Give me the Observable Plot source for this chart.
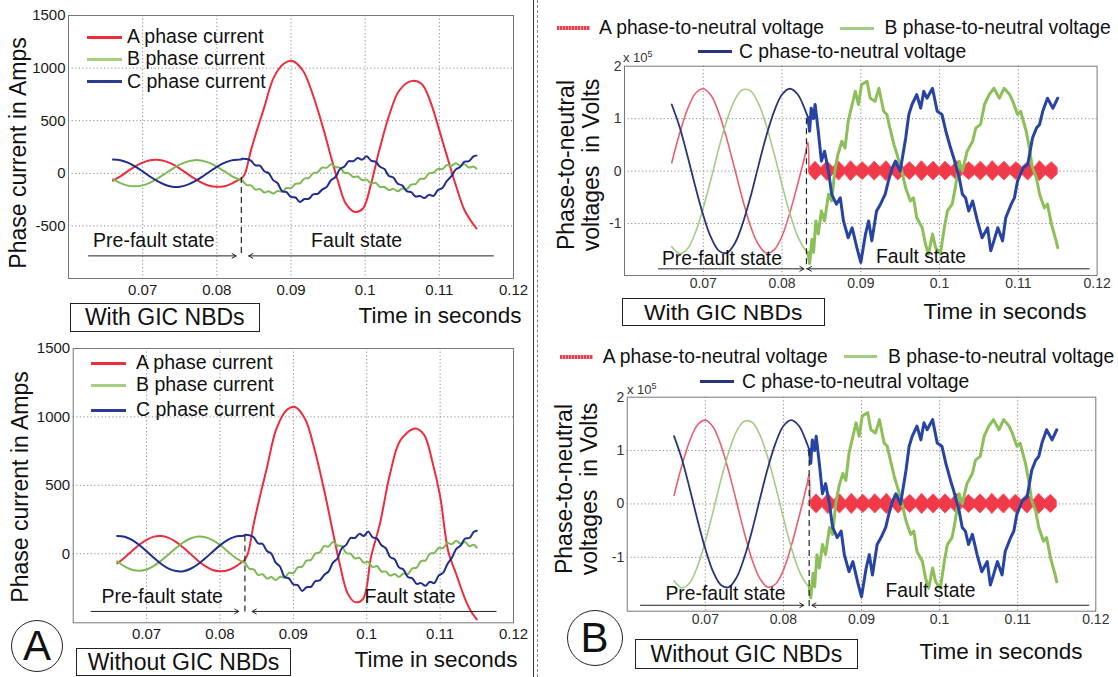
<!DOCTYPE html>
<html><head><meta charset="utf-8">
<script src="https://cdn.jsdelivr.net/npm/d3@7"></script>
<script src="https://cdn.jsdelivr.net/npm/@observablehq/plot@0.6"></script>
<style>
body{margin:0;background:#fff;}
#root{position:relative;width:1118px;height:677px;overflow:hidden;font-family:"Liberation Sans",Arial,sans-serif;color:#111;background:#fff}
#root svg{position:absolute;}
.t{position:absolute;white-space:nowrap;line-height:1;}
</style></head><body><div id="root"></div>
<script>
// ---------- axis ticks ----------
const xTicks = [0.07, 0.08, 0.09, 0.1, 0.11, 0.12];
const iTicksTop = [-500, 0, 500, 1000, 1500];
const iTicksBot = [0, 500, 1000, 1500];
const vTicks = [-1, 0, 1, 2];

// ---------- phase currents (A) ----------
const tPreI = [0.066,0.067,0.068,0.069,0.070,0.071,0.072,0.073,0.074,0.075,0.076,0.077,0.078,0.079,0.080,0.081,0.082,0.083,0.0833];
const iA_pre = [-70,-29,20,66,102,125,129,116,87,45,-3,-51,-91,-119,-128,-123,-98,-60,-50];
const iB_pre = [-55,-93,-117,-124,-115,-89,-50,-5,42,82,111,125,120,99,64,20,-26,-58,-66];
const iC_pre = [130,124,101,64,18,-31,-75,-109,-127,-128,-110,-77,-34,15,61,99,123,130,132];

const tFI = [0.0834,0.0840,0.0846,0.0852,0.0858,0.0864,0.0870,0.0876,0.0882,0.0888,0.0894,0.0900,0.0906,0.0912,0.0918,0.0924,0.0930,0.0936,0.0942,0.0948,0.0954,0.0960,0.0966,0.0972,0.0978,0.0984,0.0990,0.0996,0.1002,0.1008,0.1014,0.1020,0.1026,0.1032,0.1038,0.1044,0.1050,0.1056,0.1062,0.1068,0.1074,0.1080,0.1086,0.1092,0.1098,0.1104,0.1110,0.1116,0.1122,0.1128,0.1134,0.1140,0.1146,0.1150];
const iB_fault = [-66,-110,-115,-155,-150,-182,-170,-193,-168,-175,-140,-142,-100,-95,-50,-45,2,10,55,52,85,60,55,5,0,-35,-30,-65,-60,-98,-90,-130,-130,-160,-148,-170,-145,-150,-108,-102,-54,-50,0,5,42,40,78,70,95,72,85,55,65,45];
const iC_fault = [138,135,120,75,72,20,0,-65,-95,-170,-180,-225,-230,-272,-245,-242,-200,-195,-155,-130,-65,-35,40,65,115,115,145,130,162,120,110,62,40,-25,-40,-100,-115,-170,-180,-220,-215,-235,-205,-215,-160,-140,-75,-30,35,60,110,115,160,168];

const tAF_with = [0.0838,0.0846,0.0855,0.0864,0.0877,0.0891,0.0902,0.0916,0.0929,0.0943,0.0954,0.0963,0.0974,0.0986,0.0997,0.1008,0.1019,0.1033,0.1046,0.1062,0.1076,0.1089,0.1100,0.1112,0.1123,0.1134,0.1150];
const iAF_with = [0,218,430,629,914,1046,1068,977,756,439,155,-66,-288,-367,-335,-98,218,566,787,876,851,661,408,123,-130,-351,-525];
const tAF_without = [0.0838,0.0846,0.0855,0.0864,0.0877,0.0891,0.0902,0.0916,0.0929,0.0943,0.0954,0.0963,0.0974,0.0984,0.0995,0.1006,0.1018,0.1032,0.1046,0.1066,0.1078,0.1090,0.1100,0.1111,0.1122,0.1134,0.1142,0.1150];
const iAF_without = [0,218,430,629,914,1050,1073,985,760,440,155,-70,-290,-354,-330,-20,220,590,830,915,870,660,420,20,-150,-330,-420,-480];

// ---------- phase-to-neutral voltages (x 10^5 V) ----------
const tPreV = [0.066,0.067,0.068,0.069,0.070,0.071,0.072,0.073,0.074,0.075,0.076,0.077,0.078,0.079,0.080,0.081,0.082,0.083,0.0833];
const vA_pre = [0.16,0.72,1.18,1.48,1.57,1.44,1.10,0.61,0.04,-0.54,-1.05,-1.40,-1.56,-1.50,-1.24,-0.79,-0.24,0.35,0.55];
const vB_pre = [-1.44,-1.57,-1.48,-1.17,-0.70,-0.14,0.45,0.97,1.36,1.55,1.53,1.29,0.87,0.33,-0.26,-0.81,-1.25,-1.51,-1.55];
const vC_pre = [1.27,0.84,0.29,-0.30,-0.84,-1.27,-1.52,-1.56,-1.38,-1.00,-0.49,0.10,0.67,1.14,1.46,1.57,1.46,1.14,1.02];

const tVB_fault = [0.0835,0.0838,0.0840,0.0843,0.0846,0.0850,0.0854,0.0859,0.0863,0.0867,0.0871,0.0876,0.0880,0.0884,0.0889,0.0893,0.0897,0.0901,0.0908,0.0912,0.0918,0.0923,0.0929,0.0933,0.0937,0.0942,0.0946,0.0952,0.0957,0.0963,0.0967,0.0971,0.0978,0.0982,0.0986,0.0991,0.0995,0.1001,0.1006,0.1010,0.1016,0.1020,0.1025,0.1029,0.1035,0.1042,0.1046,0.1052,0.1057,0.1063,0.1069,0.1076,0.1082,0.1089,0.1093,0.1099,0.1103,0.1110,0.1114,0.1118,0.1123,0.1127,0.1133,0.1137,0.1142,0.1148,0.1150];
const vB_fault = [-1.76,-1.30,-1.55,-0.95,-1.20,-0.76,-0.95,-0.44,-0.57,0,0.32,0.57,0.44,0.95,1.27,1.52,1.27,1.65,1.71,1.39,1.33,1.58,1.14,1.08,0.82,0.51,0.32,0,-0.32,-0.57,-0.51,-0.89,-1.08,-1.39,-1.58,-1.20,-1.46,-1.58,-1.08,-0.76,-0.63,-0.32,0.19,0,0.38,0.57,0.82,0.89,1.27,1.46,1.58,1.39,1.58,1.46,1.33,1.08,1.14,0.76,0.44,0.06,-0.13,-0.44,-0.70,-0.63,-1.01,-1.33,-1.46];
const tVC_fault = [0.0835,0.0837,0.0840,0.0842,0.0846,0.0850,0.0854,0.0859,0.0863,0.0869,0.0874,0.0878,0.0884,0.0889,0.0895,0.0900,0.0906,0.0910,0.0914,0.0920,0.0925,0.0931,0.0935,0.0940,0.0944,0.0950,0.0957,0.0961,0.0965,0.0971,0.0976,0.0980,0.0984,0.0991,0.0997,0.1003,0.1008,0.1014,0.1018,0.1025,0.1029,0.1033,0.1037,0.1042,0.1048,0.1054,0.1061,0.1065,0.1069,0.1074,0.1080,0.1084,0.1091,0.1095,0.1099,0.1106,0.1112,0.1118,0.1123,0.1127,0.1131,0.1137,0.1144,0.1150];
const vC_fault = [0.76,1.20,1.00,1.27,0.76,0.19,0.38,0,-0.44,-0.63,-0.51,-0.95,-1.27,-1.08,-1.46,-1.74,-1.20,-0.95,-1.33,-0.76,-0.63,-0.44,-0.19,0.06,0.19,0,0.63,1.08,1.27,1.46,1.20,1.52,1.39,1.58,1.14,1.08,0.76,0.44,0.25,-0.13,-0.44,-0.51,-0.76,-0.57,-0.95,-1.27,-1.08,-1.52,-1.33,-1.08,-1.33,-0.89,-0.63,-0.51,-0.19,0.06,0.13,0.63,0.82,0.89,1.14,1.39,1.20,1.39];
const tVA_band = [0.0835,0.08425,0.0850,0.08575,0.0865,0.08725,0.0880,0.08875,0.0895,0.09025,0.0910,0.09175,0.0925,0.09325,0.0940,0.09475,0.0955,0.09625,0.0970,0.09775,0.0985,0.09925,0.1000,0.10075,0.1015,0.10225,0.1030,0.10375,0.1045,0.10525,0.1060,0.10675,0.1075,0.10825,0.1090,0.10975,0.1105,0.11125,0.1120,0.11275,0.1135,0.11425,0.1150];
const vA_band = [0.06,0.18,0.06,0.19,0.07,0.18,0.06,0.19,0.07,0.17,0.06,0.18,0.07,0.19,0.06,0.18,0.07,0.17,0.06,0.19,0.07,0.18,0.06,0.18,0.07,0.19,0.06,0.17,0.07,0.18,0.06,0.19,0.07,0.18,0.06,0.17,0.07,0.18,0.06,0.19,0.07,0.17,0.06];

// ---------- styling ----------
const FONT = '"Liberation Sans", Arial, sans-serif';
const NARROW = '"Liberation Sans Narrow", "Liberation Sans", Arial, sans-serif';
const RED_I = "#ee2c3c", GREEN_I = "#7db955", BLUE_I = "#1f2d8e";
const RED_V = "#e8606e", GREEN_V = "#a2cd84", BLUE_V = "#28357c";
const GREEN_VF = "#8cbf58", BLUE_VF = "#2743a4", RED_VF = "#f03a4a";

const root = document.getElementById("root");
const series = (ts, vs) => d3.zip(ts, vs).map(([t, v]) => ({t, v}));

function basePanel(o) {
  const gridYTicks = o.yTicks.filter(d => d > o.yDomain[0] && d < o.yDomain[1]);
  const svg = Plot.plot({
    width: o.width, height: o.height,
    marginLeft: o.ml, marginRight: o.mr, marginTop: o.mt, marginBottom: o.mb,
    x: {domain: [0.06, 0.12]},
    y: {domain: o.yDomain},
    style: {fontFamily: o.tickFont, fontSize: o.tickSize + "px", color: o.tickColor, background: "transparent", overflow: "visible"},
    marks: [
      Plot.gridX(xTicks.slice(0, -1), {stroke: "#8a8a8a", strokeOpacity: 1, strokeDasharray: "1.2,2.4"}),
      Plot.gridY(gridYTicks, {stroke: "#8a8a8a", strokeOpacity: 1, strokeDasharray: "1.2,2.4"}),
      Plot.frame({stroke: "#777"}),
      Plot.axisX(xTicks, {tickSize: 0, tickPadding: o.xPad, tickFormat: d => String(+d.toFixed(2)), label: null}),
      Plot.axisY(o.yTicks, {tickSize: 0, tickPadding: 3, tickFormat: d => String(d), label: null}),
      ...o.marks
    ]
  });
  svg.style.left = o.left + "px";
  svg.style.top = o.top + "px";
  root.appendChild(svg);
}

function annotations(a) {
  return [
    Plot.ruleX([{x: a.cut, y1: a.dash[0], y2: a.dash[1]}], {x: "x", y1: "y1", y2: "y2", stroke: "#222", strokeWidth: 1.2, strokeDasharray: "6,4"}),
    Plot.arrow([{x1: a.pre[0], x2: a.pre[1], y: a.arrowY}, {x1: a.fault[0], x2: a.fault[1], y: a.arrowY}],
      {x1: "x1", x2: "x2", y1: "y", y2: "y", stroke: "#222", strokeWidth: 1, headLength: 7}),
    Plot.text([{x: a.preText[0], y: a.preText[1], s: "Pre-fault state"}, {x: a.faultText[0], y: a.faultText[1], s: "Fault state"}],
      {x: "x", y: "y", text: "s", fontSize: a.fs, fontFamily: FONT, fill: "#111", textAnchor: "middle", lineAnchor: "middle"})
  ];
}

function currentMarks(tA, iA) {
  return [
    Plot.line(series(tPreI.concat(tA), iA_pre.concat(iA)), {x: "t", y: "v", stroke: RED_I, strokeWidth: 2, curve: "catmull-rom"}),
    Plot.line(series(tPreI.concat(tFI), iB_pre.concat(iB_fault)), {x: "t", y: "v", stroke: GREEN_I, strokeWidth: 2, curve: "catmull-rom"}),
    Plot.line(series(tPreI.concat(tFI), iC_pre.concat(iC_fault)), {x: "t", y: "v", stroke: BLUE_I, strokeWidth: 2, curve: "catmull-rom"})
  ];
}

function voltageMarks() {
  const band = d3.zip(tVA_band, vA_band).map(([t, e]) => ({t, lo: -e, hi: e}));
  return [
    Plot.line(series(tPreV.concat([0.0834]), vA_pre.concat([0])), {x: "t", y: "v", stroke: RED_V, strokeWidth: 1.6, curve: "catmull-rom"}),
    Plot.line(series(tPreV, vB_pre), {x: "t", y: "v", stroke: GREEN_V, strokeWidth: 1.6, curve: "catmull-rom"}),
    Plot.line(series(tPreV, vC_pre), {x: "t", y: "v", stroke: BLUE_V, strokeWidth: 1.8, curve: "catmull-rom"}),
    Plot.areaY(band, {x: "t", y1: "lo", y2: "hi", fill: RED_VF, stroke: "#ff5566", strokeWidth: 1}),
    Plot.line(series([tPreV[tPreV.length - 1]].concat(tVB_fault), [vB_pre[vB_pre.length - 1]].concat(vB_fault)), {x: "t", y: "v", stroke: GREEN_VF, strokeWidth: 3}),
    Plot.line(series([tPreV[tPreV.length - 1]].concat(tVC_fault), [vC_pre[vC_pre.length - 1]].concat(vC_fault)), {x: "t", y: "v", stroke: BLUE_VF, strokeWidth: 3})
  ];
}

// ---------- panels ----------
basePanel({left: 0, top: 0, width: 530, height: 300, ml: 68, mr: 17, mt: 15, mb: 22,
  yDomain: [-1000, 1500], yTicks: iTicksTop, tickFont: NARROW, tickSize: 15, tickColor: "#1a1a1a", xPad: 6,
  marks: [...currentMarks(tAF_with, iAF_with), ...annotations({cut: 0.0833, dash: [-40, -800], arrowY: -785,
    pre: [0.0627, 0.0826], fault: [0.1173, 0.0843], preText: [0.0715, -645], faultText: [0.09885, -645], fs: 19.5})]});

basePanel({left: 0, top: 330, width: 530, height: 310, ml: 72.7, mr: 17, mt: 18, mb: 17.7,
  yDomain: [-505, 1500], yTicks: iTicksBot, tickFont: NARROW, tickSize: 15, tickColor: "#1a1a1a", xPad: 6,
  marks: [...currentMarks(tAF_without, iAF_without), ...annotations({cut: 0.0834, dash: [130, -450], arrowY: -422,
    pre: [0.06245, 0.08256], fault: [0.11763, 0.08439], preText: [0.07213, -313], faultText: [0.10591, -313], fs: 19.5})]});

basePanel({left: 540, top: 40, width: 570, height: 250, ml: 84, mr: 13.4, mt: 25.7, mb: 15,
  yDomain: [-1.99, 2], yTicks: vTicks, tickFont: FONT, tickSize: 14, tickColor: "#333", xPad: 3,
  marks: [...voltageMarks(), ...annotations({cut: 0.0831, dash: [1.0, -1.88], arrowY: -1.863,
    pre: [0.06431, 0.08278], fault: [0.1190, 0.08322], preText: [0.07237, -1.663], faultText: [0.09764, -1.625], fs: 19.3})]});

basePanel({left: 540, top: 370, width: 570, height: 255, ml: 86.7, mr: 14.7, mt: 26.7, mb: 14.3,
  yDomain: [-2.01, 2], yTicks: vTicks, tickFont: FONT, tickSize: 14, tickColor: "#333", xPad: 3,
  marks: [...voltageMarks(), ...annotations({cut: 0.0833, dash: [1.0, -1.92], arrowY: -1.899,
    pre: [0.0617, 0.08261], fault: [0.1191, 0.08365], preText: [0.07259, -1.683], faultText: [0.09883, -1.627], fs: 19.3})]});

// ---------- html text & decorations ----------
function el(html, css) {
  const d = document.createElement("div");
  d.innerHTML = html;
  d.className = "t";
  d.style.cssText += css;
  root.appendChild(d);
  return d;
}
function centered(s, x, y, fs, extra = "") {
  return el(s, `left:${x}px;top:${y}px;font-size:${fs}px;transform:translate(-50%,-50%) ${extra};`);
}
function leftText(s, x, y, fs) {
  return el(s, `left:${x}px;top:${y}px;font-size:${fs}px;transform:translate(0,-50%);`);
}
function swatch(x1, x2, y, h, bg) {
  el("", `left:${x1}px;top:${y - h / 2}px;width:${x2 - x1}px;height:${h}px;background:${bg};`);
}
function box(s, x1, y1, x2, y2, fs) {
  el(s, `left:${x1}px;top:${y1}px;width:${x2 - x1}px;height:${y2 - y1}px;box-sizing:border-box;border:1.6px solid #222;display:flex;align-items:center;justify-content:center;font-size:${fs}px;`);
}
function circle(s, cx, cy, r, fs) {
  el(s, `left:${cx - r}px;top:${cy - r}px;width:${2 * r}px;height:${2 * r}px;box-sizing:border-box;border:1.6px solid #222;border-radius:50%;display:flex;align-items:center;justify-content:center;font-size:${fs}px;`);
}

// y-axis titles
centered("Phase current in Amps", 18, 152.5, 23, "rotate(-90deg)");
centered("Phase current in Amps", 20, 486.5, 23, "rotate(-90deg)");
const vTitle = "Phase-to-neutral<br>voltages&nbsp; in Volts";
el(vTitle, `left:579px;top:165px;font-size:23px;line-height:25px;text-align:center;transform:translate(-50%,-50%) rotate(-90deg);`);
el(vTitle, `left:577px;top:489px;font-size:23px;line-height:25px;text-align:center;transform:translate(-50%,-50%) rotate(-90deg);`);

// x-axis titles
centered("Time in seconds", 440, 316, 22.5);
centered("Time in seconds", 436, 660, 22.5);
centered("Time in seconds", 1005, 312, 22.5);
centered("Time in seconds", 1001, 652, 22.5);

// boxes and panel letters
box("With GIC NBDs", 69.5, 303, 260, 332, 23);
box("Without GIC NBDs", 76, 648, 291, 676, 23);
box("With GIC NBDs", 622, 298, 824.5, 326, 22.8);
box("Without GIC NBDs", 635, 639.3, 857.7, 669.3, 23);
circle("A", 37, 646, 26, 42);
circle("B", 594.5, 637.5, 28, 42);

// scale multipliers
el("x 10<sup style='font-size:9px;vertical-align:5px'>5</sup>", "left:623px;top:50px;font-size:13px;color:#333;");
el("x 10<sup style='font-size:9px;vertical-align:5px'>5</sup>", "left:627px;top:382px;font-size:13px;color:#333;");

// legends: currents
const curLegend = [["A phase current", RED_I], ["B phase current", "#a6cf7e"], ["C phase current", "#2b3b93"]];
[37, 59, 81.5].forEach((y, i) => { swatch(87, 122, y, 3, curLegend[i][1]); leftText(curLegend[i][0], 127, y, 19.5); });
[363.3, 385, 410].forEach((y, i) => { swatch(91, 125.6, y, 3, curLegend[i][1]); leftText(curLegend[i][0], 136, y, 19.5); });

// legends: voltages
const redStripe = "repeating-linear-gradient(90deg,#ee3c4c 0 2px,#f7a2aa 2px 3px)";
swatch(556.6, 589.8, 28.3, 4, redStripe); leftText("A phase-to-neutral voltage", 599, 28.3, 19.3);
swatch(840, 873.6, 28.3, 3, GREEN_V); leftText("B phase-to-neutral voltage", 884.6, 28.3, 19.3);
swatch(697.8, 731.7, 51.7, 3.5, BLUE_V); leftText("C phase-to-neutral voltage", 739, 51.7, 19.3);
swatch(560, 593.4, 356.7, 4, redStripe); leftText("A phase-to-neutral voltage", 602.7, 356.7, 19.3);
swatch(844, 877, 356.7, 3, GREEN_V); leftText("B phase-to-neutral voltage", 888, 356.7, 19.3);
swatch(700, 733.5, 381.7, 3.5, BLUE_V); leftText("C phase-to-neutral voltage", 742, 381.7, 19.3);

// separator between A and B
el("", "left:533px;top:0;width:1px;height:677px;background:#333;");
el("", "left:537px;top:0;width:0;height:677px;border-left:1px dashed #888;");
</script></body></html>
